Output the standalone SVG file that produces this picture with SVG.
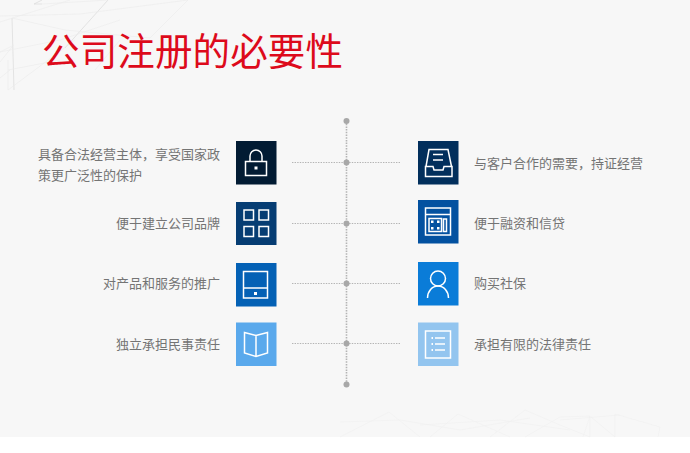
<svg xmlns="http://www.w3.org/2000/svg" width="690" height="453" viewBox="0 0 690 453">
<style>
text{font-family:"Noto Sans CJK SC","Liberation Sans",sans-serif}
.t{font-size:13px;fill:#747474}
.i{fill:none;stroke:#fff;stroke-width:1.5}
.w{fill:#fff}
.d{fill:#a8a8a8}
.h{stroke:#b4b4b4;stroke-width:1.2;stroke-dasharray:1.4 1.2;fill:none}
.v{stroke:#b4b4b4;stroke-width:1.6;stroke-dasharray:1.5 1.2;fill:none}
.bg1{fill:none;stroke:#dadada;stroke-width:.7}
.bg2{fill:none;stroke:#ebebeb;stroke-width:.6}
.bg3{fill:none;stroke:#f0f0f0;stroke-width:.6}
</style>
<rect width="690" height="453" fill="#fff"/>
<rect width="690" height="437" fill="#f7f7f7"/>
<g id="background-lines">
<path class="bg1" d="M108 0L65 48M12 18L14 90M42 0L34 4L42 4"/>
<path class="bg2" d="M12 18L65 30L150 38M12 47L0 62M108 0L42 4M14 45L0 52M0 22L70 0M0 16L80 14L188 0M150 38L188 0M0 52L60 40L120 20M75 40L8 90M10 70L0 78M95 70L120 40M8 70L60 60M8 60L8 90"/>
<path class="bg3" d="M340 437L389 412L420 437M430 437L458 414L510 437M490 437L525 410L560 425L590 437M525 437L560 417L590 416L583 437M590 416L590 437M560 420L620 415M615 437L591 417M615 437L615 414L660 427L658 437M340 422L400 420L460 430L530 418M420 425L500 420L570 430"/>
</g>
<text x="42" y="65" font-size="37.500" fill="#dd0a1b" textLength="301">公司注册的必要性</text>
<g id="connectors">
<path class="v" d="M346.500 121V384"/>
<path class="h" d="M292 162.500H400M292 223.500H400M292 283.500H400M292 343.500H400"/>
<circle class="d" cx="346.500" cy="121" r="3"/>
<circle class="d" cx="346.500" cy="162.500" r="3"/>
<circle class="d" cx="346.500" cy="223.500" r="3"/>
<circle class="d" cx="346.500" cy="283.500" r="3"/>
<circle class="d" cx="346.500" cy="343.500" r="3"/>
<circle class="d" cx="346.500" cy="384.500" r="3"/>
</g>
<g id="node-lock">
<rect x="236" y="141" width="40.500" height="43.500" fill="#021b33"/>
<path class="i" d="M245.500 161.500h21v14h-21zM250 161.500v-5.500a6 6 0 0 1 12 0v5.500"/>
<rect class="w" x="254.500" y="166.500" width="3" height="3"/>
<text class="t" x="38" y="159">具备合法经营主体，享受国家政</text>
<text class="t" x="38" y="180">策更广泛性的保护</text>
</g>
<g id="node-grid">
<rect x="236" y="202" width="40.500" height="43" fill="#063d73"/>
<path class="i" d="M244 210h9.500v10h-9.500zM259 210h9.500v10h-9.500zM244 226.500h9.500v10h-9.500zM259 226.500h9.500v10h-9.500z"/>
<text class="t" x="220" y="228" text-anchor="end">便于建立公司品牌</text>
</g>
<g id="node-tablet">
<rect x="236" y="263" width="40.500" height="43.500" fill="#0461b5"/>
<path class="i" d="M243.500 271.500h24v26.500h-24zM243.500 288h24"/>
<rect class="w" x="254" y="292" width="3" height="3"/>
<text class="t" x="220" y="288" text-anchor="end">对产品和服务的推广</text>
</g>
<g id="node-book">
<rect x="236" y="322.500" width="40.500" height="43.500" fill="#5aa9ec"/>
<path class="i" d="M244.500 332.500l11.500 3 11.500-3v20.500l-11.500 3.500-11.500-3.500zM256 335.500v21"/>
<text class="t" x="220" y="349" text-anchor="end">独立承担民事责任</text>
</g>
<g id="node-inbox">
<rect x="418" y="141" width="40.500" height="43.500" fill="#022f5c"/>
<path class="i" d="M426 166.500l3-17h19l3.500 17M425.500 166.500h7.500l1 3.500h9l1-3.500h8v10h-26.500zM433 154.500h10M433 160h10"/>
<text class="t" x="474" y="168">与客户合作的需要，持证经营</text>
</g>
<g id="node-calc">
<rect x="418" y="200" width="40.500" height="43.500" fill="#0351a0"/>
<path class="i" d="M425.500 208h25v27h-25zM425.500 214.500h25M429 218.500h12.500v13h-12.500zM443.500 219h3v12.500h-3z"/>
<path class="w" d="M431 220.500h2.500v2.500h-2.500zM437 220.500h2.500v2.500h-2.500zM431 227h2.500v2.500h-2.500zM437 227h2.500v2.500h-2.500z"/>
<text class="t" x="474" y="228">便于融资和信贷</text>
</g>
<g id="node-person">
<rect x="418" y="262" width="40.500" height="43.500" fill="#0a7cd8"/>
<circle class="i" cx="438" cy="278.500" r="7.500"/>
<path class="i" d="M427.500 298a10.500 12 0 0 1 21 0"/>
<text class="t" x="474" y="288">购买社保</text>
</g>
<g id="node-list">
<rect x="418" y="322.500" width="40.500" height="43.500" fill="#93c5ef"/>
<path class="i" d="M425.500 331h25v27h-25z"/>
<path class="i" stroke-width="1" d="M435 338h10M435 344h10M435 350h10"/>
<path class="w" d="M431.500 337h1.500v2h-1.500zM431.500 343h1.500v2h-1.500zM431.500 349h1.500v2h-1.500z"/>
<text class="t" x="474" y="349">承担有限的法律责任</text>
</g>
</svg>
